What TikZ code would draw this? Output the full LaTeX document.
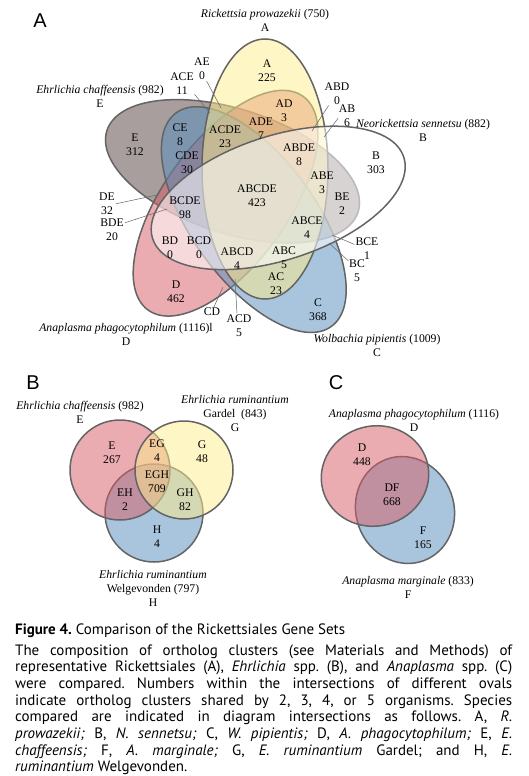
\documentclass[tikz,border=0pt]{standalone}
\usepackage{fontspec}
\setmainfont{Liberation Serif}
\newfontfamily\capfont{PT Sans}
\newfontfamily\panelfont{Liberation Sans}
\usepackage{tikz}
\definecolor{vennYellow}{RGB}{255,238,140}
\definecolor{vennBlue}{RGB}{85,141,189}
\definecolor{vennRed}{RGB}{215,90,100}
\definecolor{vennBrown}{RGB}{80,62,60}
\definecolor{vennLine}{RGB}{100,100,100}
\newcommand{\regionfont}{\fontsize{11.7}{14}\selectfont}
\newcommand{\captionfont}{\capfont\frenchspacing\fontsize{15}{16.7}\selectfont}
\tikzset{
  vennSet/.style={
    draw=vennLine,
    line width=1.5pt,
    fill opacity=0.5
  },
  region/.style={
    font=\regionfont,
    align=center,
    inner sep=0pt
  },
  species/.style={
    font=\regionfont,
    align=center,
    inner sep=0pt
  },
  leader/.style={
    draw=vennLine,
    line width=0.5pt,
    shorten <=1pt
  },
  panelLetter/.style={
    font=\panelfont\fontsize{20}{20}\selectfont,
    inner sep=0pt
  },
  capLine/.style={
    anchor=base west,
    inner sep=0pt,
    font=\captionfont
  }
}

\begin{document}
\begin{tikzpicture}[x=1pt, y=-1pt]
  \useasboundingbox[fill=white] (0,0) rectangle (528,776);

  % A: five Rickettsiales
  \node[panelLetter] (panelA) at (40,21) {A};
  \filldraw[vennSet, fill=vennBrown] (232.5,171.3) ellipse [x radius=132, y radius=62, rotate=-18];
  \filldraw[vennSet, fill=vennRed] (225.6,203.2) ellipse [x radius=132, y radius=62, rotate=54];
  \filldraw[vennSet, fill=vennBlue] (253.8,219.6) ellipse [x radius=132, y radius=62, rotate=-54];
  \filldraw[vennSet, fill=vennYellow] (265,169) ellipse [x radius=130, y radius=63, rotate=90];
  \filldraw[vennSet, fill=white, fill opacity=0.55] (278.2,197.9) ellipse [x radius=132, y radius=62, rotate=18];

  \node[species] (rp) at (265,20) {\textit{Rickettsia prowazekii} (750)\\A};
  \node[species] (ns) at (423,130) {\textit{Neorickettsia sennetsu} (882)\\B};
  \node[species] (wp) at (377,345) {\textit{Wolbachia pipientis} (1009)\\C};
  \node[species] (ap) at (126,334) {\textit{Anaplasma phagocytophilum} (1116)l\\D};
  \node[species] (ec) at (100,96) {\textit{Ehrlichia chaffeensis} (982)\\E};

  \node[region] (a) at (267,70.5) {A\\225};
  \node[region] (ae) at (202,69) {AE\\0};
  \node[region] (ace) at (182,83.5) {ACE\\11};
  \node[region] (e) at (135,145) {E\\312};
  \node[region] (ce) at (180,135) {CE\\8};
  \node[region] (cde) at (187,163) {CDE\\30};
  \node[region] (acde) at (225,137) {ACDE\\23};
  \node[region] (ade) at (261,128.5) {ADE\\7};
  \node[region] (ad) at (284,110.5) {AD\\3};
  \node[region] (abd) at (337,93.5) {ABD\\0};
  \node[region] (ab) at (347,116) {AB\\6};
  \node[region] (abde) at (299,154.5) {ABDE\\8};
  \node[region] (b) at (376,163) {B\\303};
  \node[region] (abe) at (322,183) {ABE\\3};
  \node[region] (be) at (342,204) {BE\\2};
  \node[region] (abce) at (307,228) {ABCE\\4};
  \node[region] (bce) at (367,249) {BCE\\1};
  \node[region] (bc) at (357,271) {BC\\5};
  \node[region] (abc) at (284,257.5) {ABC\\5};
  \node[region] (ac) at (276,283.5) {AC\\23};
  \node[region] (c) at (318,310) {C\\368};
  \node[region] (abcde) at (257,196) {ABCDE\\423};
  \node[region] (bcde) at (185,207.5) {BCDE\\98};
  \node[region] (de) at (107,204) {DE\\32};
  \node[region] (bde) at (112,230) {BDE\\20};
  \node[region] (bd) at (170,248) {BD\\0};
  \node[region] (bcd) at (199,248) {BCD\\0};
  \node[region] (abcd) at (237,259) {ABCD\\4};
  \node[region] (d) at (176,292) {D\\462};
  \node[region] (cd) at (212,312) {CD};
  \node[region] (acd) at (239,325.5) {ACD\\5};

  % leader ends inside the small regions
  \coordinate (aeEnd) at (221,108);
  \coordinate (aceEnd) at (210,113);
  \coordinate (abdEnd) at (312,131);
  \coordinate (abEnd) at (324,137);
  \coordinate (deEnd) at (157,195);
  \coordinate (bdeEnd) at (167,209);
  \coordinate (bceEnd) at (332,235);
  \coordinate (bcEnd) at (329,243);
  \coordinate (cdEnd) at (223,287);
  \coordinate (acdEnd) at (235,279);

  \draw[leader] (ae.-70) -- (aeEnd);
  \draw[leader] (ace.-40) -- (aceEnd);
  \draw[leader] (abd.-125) -- (abdEnd);
  \draw[leader] (ab.190) -- (abEnd);
  \draw[leader] (de.east) -- (deEnd);
  \draw[leader] (bde.30) -- (bdeEnd);
  \draw[leader] (bce.160) -- (bceEnd);
  \draw[leader] (bc.130) -- (bcEnd);
  \draw[leader] (cd.70) -- (cdEnd);
  \draw[leader] (acd.100) -- (acdEnd);

  % B: Ehrlichia
  \node[panelLetter] (panelB) at (33,383) {B};
  \filldraw[vennSet, fill=vennBlue] (154,513) circle [radius=49];
  \filldraw[vennSet, fill=vennRed] (120,470) circle [radius=50];
  \filldraw[vennSet, fill=vennYellow] (184,470) circle [radius=49];

  \node[species] (ecB) at (80,412) {\textit{Ehrlichia chaffeensis} (982)\\E};
  \node[species] (erg) at (235,413) {\textit{Ehrlichia ruminantium}\\Gardel\ \ (843)\\G};
  \node[species] (erw) at (153,588) {\textit{Ehrlichia ruminantium}\\Welgevonden (797)\\H};

  \node[region] (eB) at (112,453) {E\\267};
  \node[region] (eg) at (157,451) {EG\\4};
  \node[region] (g) at (202,452) {G\\48};
  \node[region] (egh) at (157,482) {EGH\\709};
  \node[region] (eh) at (125,500) {EH\\2};
  \node[region] (gh) at (185,500) {GH\\82};
  \node[region] (h) at (157,537) {H\\4};

  % C: Anaplasma
  \node[panelLetter] (panelC) at (336,383) {C};
  \filldraw[vennSet, fill=vennBlue] (405,510) ellipse [x radius=54, y radius=49, rotate=-70];
  \filldraw[vennSet, fill=vennRed] (375,476) ellipse [x radius=54, y radius=50, rotate=15];

  \node[species] (apC) at (414,420) {\textit{Anaplasma phagocytophilum} (1116)\\D};
  \node[species] (am) at (408,587) {\textit{Anaplasma marginale} (833)\\F};

  \node[region] (dC) at (362,455) {D\\448};
  \node[region] (df) at (392,495) {DF\\668};
  \node[region] (f) at (423,538) {F\\165};

  % caption
  \node[capLine] (capTitle) at (15,634) {\textbf{Figure 4.} Comparison of the Rickettsiales Gene Sets};
  \node[capLine] (cap1) at (15,655) {\makebox[497pt][s]{The composition of ortholog clusters (see Materials and Methods) of}};
  \node[capLine] (cap2) at (15,671.7) {\makebox[497pt][s]{representative Rickettsiales (A), \textit{Ehrlichia} spp. (B), and \textit{Anaplasma} spp. (C)}};
  \node[capLine] (cap3) at (15,688.4) {\makebox[497pt][s]{were compared. Numbers within the intersections of different ovals}};
  \node[capLine] (cap4) at (15,705.1) {\makebox[497pt][s]{indicate ortholog clusters shared by 2, 3, 4, or 5 organisms. Species}};
  \node[capLine] (cap5) at (15,721.8) {\makebox[497pt][s]{compared are indicated in diagram intersections as follows. A, \textit{R.}}};
  \node[capLine] (cap6) at (15,738.5) {\makebox[497pt][s]{\textit{prowazekii;} B, \textit{N. sennetsu;} C, \textit{W. pipientis;} D, \textit{A. phagocytophilum;} E, \textit{E.}}};
  \node[capLine] (cap7) at (15,755.2) {\makebox[497pt][s]{\textit{chaffeensis;} F, \textit{A. marginale;} G, \textit{E. ruminantium} Gardel; and H, \textit{E.}}};
  \node[capLine] (cap8) at (15,771.9) {\textit{ruminantium} Welgevonden.};
\end{tikzpicture}
\end{document}
